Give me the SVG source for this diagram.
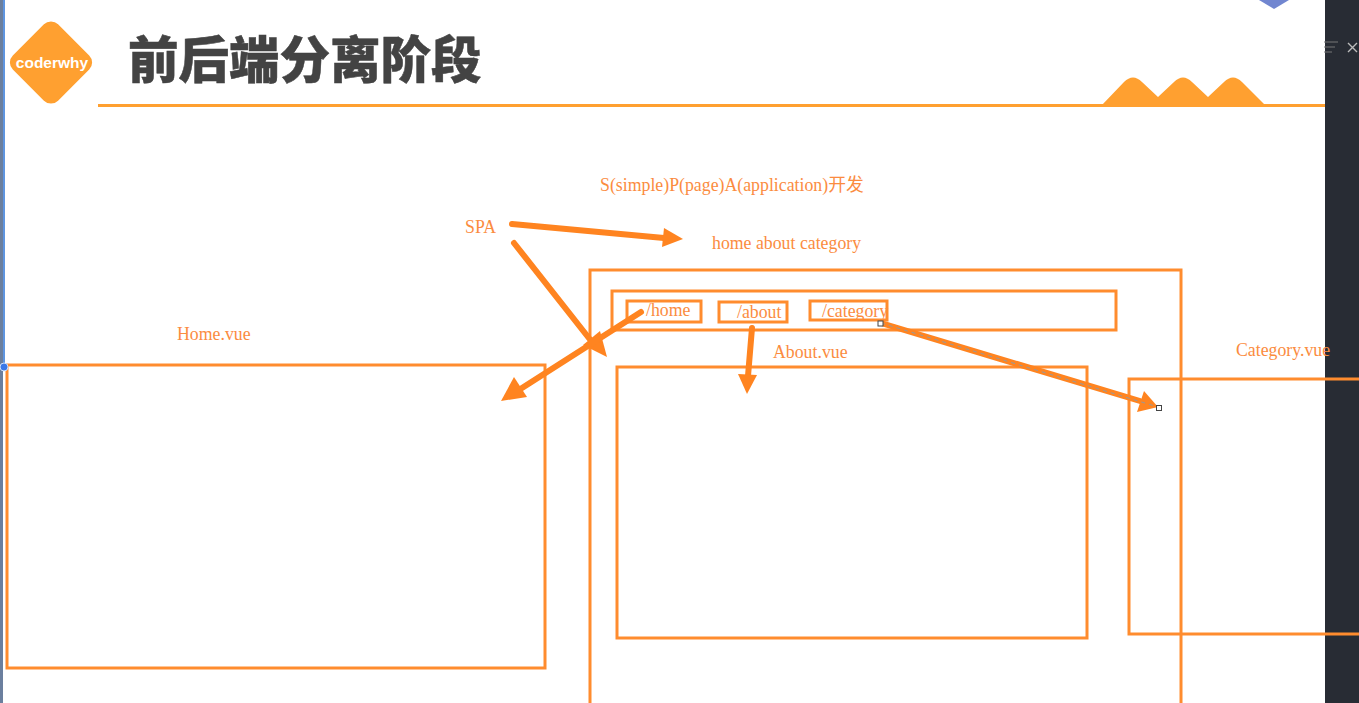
<svg xmlns="http://www.w3.org/2000/svg" width="1359" height="703" viewBox="0 0 1359 703">
<style>
.box{fill:none;stroke:#ff8c2e;stroke-width:3}
.lbl{font-family:"Liberation Serif","Noto Sans CJK SC",serif;font-size:17.800px;fill:#fb8c3f}
.arr{stroke:#ff8420;stroke-width:6;stroke-linecap:round;fill:none}
.head{fill:#ff8420}
.h{fill:#fff;stroke:#444;stroke-width:1}
</style>
<rect width="1359" height="703" fill="#fff"/>
<g id="chrome">
<rect x="1325" y="0" width="34" height="703" fill="#282c34"/>
<rect x="0" y="0" width="3" height="703" fill="#6b7f9e"/>
<rect x="3" y="0" width="2" height="366" fill="#5f95e0"/>
<path d="M1259 0h30l-15 9z" fill="#7186d0"/>
<path d="M1324 42h14M1324 47h11M1324 52h8" stroke="#777" stroke-width="1.2"/>
<path d="M1348 43l9 9M1357 43l-9 9" stroke="#bbb" stroke-width="1.4"/>
</g>
<g id="header">
<rect x="19" y="30.500" width="64" height="64" rx="10" transform="rotate(45 51 62.500)" fill="#ffa030"/>
<text x="52" y="68" text-anchor="middle" style="font-family:'Liberation Sans',sans-serif;font-size:15.500px;font-weight:700;fill:#fff">coderwhy</text>
<text x="128" y="78" style="font-family:'Noto Sans CJK SC',sans-serif;font-size:50.500px;font-weight:900;fill:#434343;stroke:#434343;stroke-width:0.500">前后端分离阶段</text>
<rect x="98" y="104" width="1227" height="3" fill="#ffa030"/>
<path d="M1102 105L1124 82Q1133 73 1142 82L1158 97L1174 82Q1183 73 1192 82L1208 97L1224 82Q1233 73 1242 82L1265 105Z" fill="#ffa030"/>
</g>
<g id="spa"><text class="lbl" x="465" y="232.500">SPA</text></g>
<g id="spa-title"><text class="lbl" x="600" y="190.500">S(simple)P(page)A(application)开发</text></g>
<g id="tabs-label"><text class="lbl" x="712" y="248.500">home about category</text></g>
<g id="home-vue"><text class="lbl" x="177" y="339.500">Home.vue</text><rect class="box" x="7" y="365" width="538" height="303"/></g>
<g id="page"><rect class="box" x="590" y="270" width="591" height="450"/></g>
<g id="nav"><rect class="box" x="612" y="291" width="504" height="39"/></g>
<g id="tab-home"><rect class="box" x="627" y="301" width="74" height="21"/><text class="lbl" x="646" y="315.500">/home</text></g>
<g id="tab-about"><rect class="box" x="719" y="302" width="68" height="20"/><text class="lbl" x="737" y="317.500">/about</text></g>
<g id="tab-category"><rect class="box" x="810" y="301" width="77" height="19"/><text class="lbl" x="822" y="316.500">/category</text></g>
<g id="about-vue"><text class="lbl" x="773" y="357.500">About.vue</text><rect class="box" x="617" y="367" width="470" height="271"/></g>
<g id="category-vue"><rect class="box" x="1129" y="379" width="260" height="255"/><text class="lbl" x="1236" y="355.500">Category.vue</text></g>
<g id="connectors">
<path class="arr" d="M512 224L664 238"/><path class="head" d="M683 239L664 228L662 247Z"/>
<path class="arr" d="M514 243L592 342"/><path class="head" d="M607 357L583 345L600 331Z"/>
<path class="arr" d="M641 312L522 388"/><path class="head" d="M501 401L514 377L527 397Z"/>
<path class="arr" d="M752 328L748 376"/><path class="head" d="M747 394L738 374L757 375Z"/>
<path class="arr" d="M881 323L1140 401"/><path class="head" d="M1158 407L1144 391L1137 412Z"/>
<path d="M881 323L1158 407" stroke="#999" stroke-width="1" stroke-dasharray="4 4" fill="none"/>
<rect class="h" x="878" y="321" width="5" height="5"/>
<rect class="h" x="1156.500" y="405.500" width="5" height="5"/>
<circle cx="4" cy="367" r="4" fill="#3b78e7" stroke="#cfe0fa"/>
</g>
</svg>
